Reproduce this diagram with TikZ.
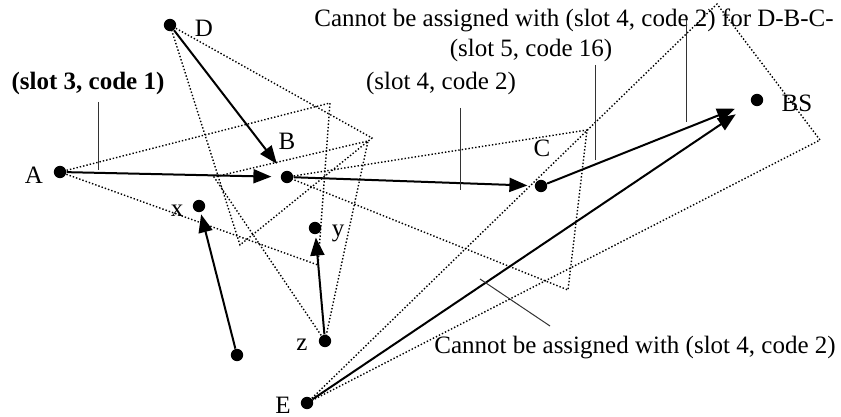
\documentclass[tikz,border=0pt]{standalone}
\usepackage{fontspec}
\setmainfont{Liberation Serif}
\usetikzlibrary{arrows.meta}

\begin{document}
\begin{tikzpicture}[x=0.5pt,y=-0.5pt,font=\fontsize{12.5}{15}\selectfont,
  dot/.style={circle,fill,inner sep=0pt,minimum size=6.2pt},
  link/.style={line width=1pt,-{Triangle[length=9pt,width=7pt]}},
  beam/.style={line width=0.7pt,dash pattern=on 0.7pt off 1pt},
  leader/.style={line width=0.5pt,black!80}]
\useasboundingbox (0,0) rectangle (841,417);

% stations
\node[dot] (D) at (170,25) {};
\node[dot] (A) at (60,172) {};
\node[dot] (B) at (287,177) {};
\node[dot] (x) at (199,206) {};
\node[dot] (y) at (315,228) {};
\node[dot] (z) at (325,341) {};
\node[dot] (w) at (237,355) {};
\node[dot] (C) at (541,186) {};
\node[dot] (BS) at (757,100) {};
\node[dot] (E) at (307,403) {};
\node (labD) at (204,28) {D};
\node (labA) at (34,175) {A};
\node (labB) at (287,141) {B};
\node (labC) at (542,148) {C};
\node (labBS) at (797,103) {BS};
\node (labx) at (177,211) {x};
\node (laby) at (338,233) {y};
\node (labz) at (302,345) {z};
\node (labE) at (283,405) {E};

% beams
\draw[beam] (A.center) -- (330,103) -- (318,265) -- cycle;
\draw[beam] (D.center) -- (372,138) -- (240,245) -- cycle;
\draw[beam] (z.center) -- (214,177) -- (368,141) -- cycle;
\draw[beam] (B.center) -- (587,130) -- (568,290) -- cycle;
\draw[beam] (E.center) -- (717,4) -- (820,140) -- cycle;

% links
\draw[link,shorten >=5pt] (D) -- (B);
\draw[link,shorten >=4.5pt] (A) -- (B);
\draw[link,shorten >=3.5pt] (B) -- (C);
\draw[link,shorten >=8.5pt] (C) -- (BS);
\draw[link,shorten >=9.5pt] (E) -- (BS);
\draw[link,shorten >=1pt] (w) -- (x);
\draw[link,shorten >=1.5pt] (z) -- (y);

% notes
\node (n31) at (88,83) {\textbf{(slot 3, code 1)}};
\node (n42) at (441,83) {(slot 4, code 2)};
\node (n516) at (531,50) {(slot 5, code 16)};
\node (ntop) at (574,20) {Cannot be assigned with (slot 4, code 2) for D-B-C-};
\node (nbot) at (635,348) {Cannot be assigned with (slot 4, code 2)};
\coordinate (p1) at (98,102); \coordinate (q1) at (98,170);
\coordinate (p2) at (460,108); \coordinate (q2) at (460,190);
\coordinate (p3) at (595,65); \coordinate (q3) at (595,160);
\coordinate (p4) at (686,20); \coordinate (q4) at (686,122);
\coordinate (p5) at (550,326); \coordinate (q5) at (480,279);
\draw[leader] (p1) -- (q1);
\draw[leader] (p2) -- (q2);
\draw[leader] (p3) -- (q3);
\draw[leader] (p4) -- (q4);
\draw[leader] (p5) -- (q5);
\end{tikzpicture}
\end{document}
